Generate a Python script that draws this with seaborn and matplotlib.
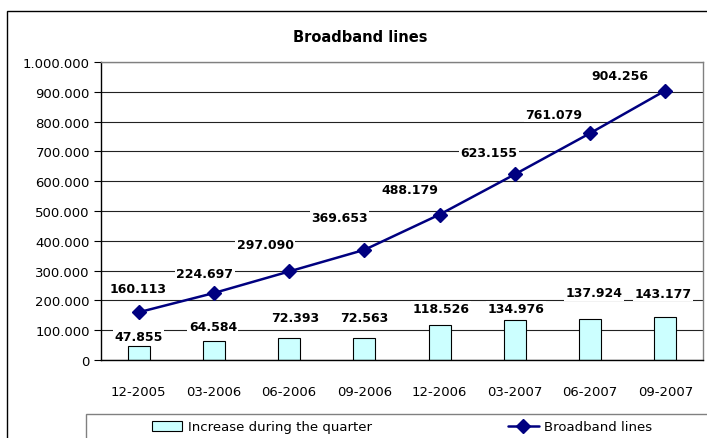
import numpy as np
import matplotlib.pyplot as plt
import matplotlib.ticker as mticker
from matplotlib.patches import Rectangle
from matplotlib.lines import Line2D
from matplotlib.patches import Patch
import seaborn as sns

sns.set_style('white')
plt.rcParams['font.family'] = ['DejaVu Sans']
plt.rcParams['text.color'] = 'black'
plt.rcParams['xtick.color'] = 'black'
plt.rcParams['ytick.color'] = 'black'

# Data
quarters = ['12-2005', '03-2006', '06-2006', '09-2006',
            '12-2006', '03-2007', '06-2007', '09-2007']
increase = [47855, 64584, 72393, 72563, 118526, 134976, 137924, 143177]
lines_total = [160113, 224697, 297090, 369653, 488179, 623155, 761079, 904256]

# label offsets (pixels) as Excel placed them
line_off = [(-1, 24), (-9, 20), (-24, 27), (-25, 32), (-30, 25), (-26, 22), (-36, 19), (-45, 15)]
bar_off = [(0, 9), (-1, 14), (6, 21), (0, 21), (1, 16), (1, 11), (4, 26), (-2, 24)]

BAR_COLOR = '#CCFFFF'
LINE_COLOR = '#000080'

W, H = 707, 439
fig = plt.figure(figsize=(W / 100, H / 100), dpi=100)
ax = fig.add_axes([101 / W, 1 - 361 / H, 602 / W, 298 / H])

x = np.arange(len(quarters))
sns.barplot(x=x, y=increase, ax=ax, width=0.29, color=BAR_COLOR,
            edgecolor='black', linewidth=0.8, saturation=1, zorder=2)
ax.plot(x, lines_total, color=LINE_COLOR, linewidth=1.8, marker='D',
        markersize=7, zorder=3)

ax.set_xlim(-0.5, len(quarters) - 0.5)
ax.set_ylim(0, 1000000)
ax.yaxis.set_major_locator(mticker.MultipleLocator(100000))
ax.yaxis.set_major_formatter(mticker.FuncFormatter(
    lambda v, p: f'{int(v):,}'.replace(',', '.')))
ax.grid(axis='y', color='#222222', linewidth=0.8, zorder=0)
ax.set_axisbelow(True)

ax.set_xticks(x)
ax.set_xticklabels(quarters)
ax.set_xticks(np.arange(-0.5, len(quarters)), minor=True)
ax.tick_params(axis='x', which='major', length=0, pad=18, labelsize=9.5)
ax.tick_params(axis='x', which='minor', length=5, width=0.8, direction='out', color='black')
ax.tick_params(axis='y', length=5, width=0.8, direction='out', color='black',
               labelsize=9.5, left=True, pad=3)

for s in ['left', 'bottom']:
    ax.spines[s].set_color('black')
    ax.spines[s].set_linewidth(1)
for s in ['top', 'right']:
    ax.spines[s].set_color('#808080')
    ax.spines[s].set_linewidth(1)

bbox = dict(facecolor='white', edgecolor='none', pad=1)
for i, v in enumerate(lines_total):
    ax.annotate(f'{v:,}'.replace(',', '.'), (x[i], v), xytext=line_off[i],
                textcoords='offset pixels', ha='center', va='center',
                fontsize=9, fontweight='bold', bbox=bbox, zorder=4)
for i, v in enumerate(increase):
    ax.annotate(f'{v:,}'.replace(',', '.'), (x[i], v), xytext=bar_off[i],
                textcoords='offset pixels', ha='center', va='center',
                fontsize=9, fontweight='bold', bbox=bbox, zorder=4)

fig.text(360 / W, 1 - 37 / H, 'Broadband lines', ha='center', va='center',
         fontsize=10.5, fontweight='bold')

# outer chart frame
fig.patches.append(Rectangle((7 / W, -0.1), 1.1, 1 - 12 / H + 0.1,
                             transform=fig.transFigure, fill=False,
                             edgecolor='black', linewidth=1))
# legend frame
fig.patches.append(Rectangle((86 / W, -0.1), 1.1, 1 - 415 / H + 0.1,
                             transform=fig.transFigure, fill=False,
                             edgecolor='#808080', linewidth=1))

handles = [Patch(facecolor=BAR_COLOR, edgecolor='black', linewidth=0.8),
           Line2D([], [], color=LINE_COLOR, linewidth=1.8, marker='D', markersize=7)]
fig.legend(handles, ['Increase during the quarter', 'Broadband lines'],
           loc='center left', bbox_to_anchor=(152 / W, 1 - 428 / H), ncol=2,
           frameon=False, fontsize=9.5, handlelength=2.3, handleheight=0.8,
           handletextpad=0.45, columnspacing=10.3, borderpad=0, borderaxespad=0)

fig.savefig('out.png', dpi=100)
